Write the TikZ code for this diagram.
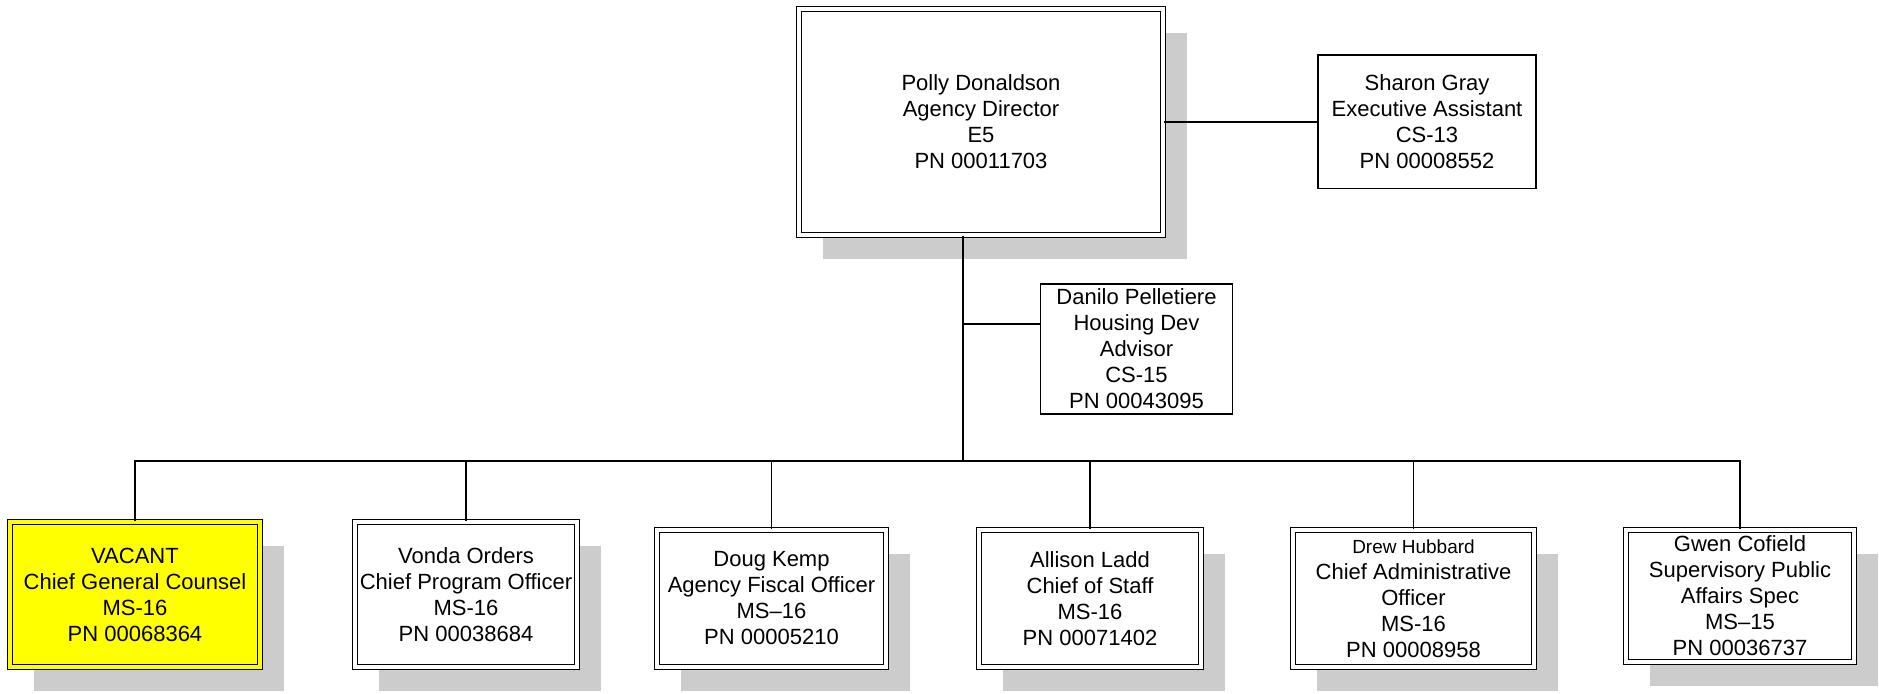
\documentclass[tikz,border=0pt]{standalone}
\usepackage{fontspec}
\setmainfont{Liberation Sans}
\usetikzlibrary{shadows}
\definecolor{shadowgray}{RGB}{204,204,204}
\definecolor{vacantyellow}{RGB}{255,255,0}

\begin{document}
\begin{tikzpicture}[
    x=0.5pt, y=-0.5pt,
    every node/.style={font=\fontsize{11}{13}\selectfont, align=center, inner sep=0pt},
    post/.style={rectangle, draw, fill=white, line width=0.75pt, double, double distance=1.6pt,
        general shadow={fill=shadowgray, shadow xshift=12pt, shadow yshift=-12pt}},
    staff/.style={rectangle, draw, fill=white, line width=0.75pt},
    link/.style={line width=0.9pt}
]
\useasboundingbox (0,0) rectangle (1879,694);

% top level
\node[post, minimum width=182pt, minimum height=113pt] (dir) at (981,122)
    {Polly Donaldson\\Agency Director\\E5\\PN 00011703};
\node[staff, minimum width=109pt, minimum height=66.75pt] (sharon) at (1427,122)
    {Sharon Gray\\Executive Assistant\\CS-13\\PN 00008552};
\node[staff, minimum width=96pt, minimum height=65pt] (danilo) at (1136.5,349)
    {Danilo Pelletiere\\Housing Dev\\Advisor\\CS-15\\PN 00043095};

% direct reports
\node[post, fill=vacantyellow, double=vacantyellow, minimum width=125pt, minimum height=72.5pt] (vacant) at (135,594.5)
    {VACANT\\Chief General Counsel\\MS-16\\PN 00068364};
\node[post, minimum width=111pt, minimum height=72.5pt] (vonda) at (466,594.5)
    {Vonda Orders\\Chief Program Officer\\MS-16\\PN 00038684};
\node[post, minimum width=114.5pt, minimum height=68.5pt] (doug) at (771.5,598.5)
    {Doug Kemp\\Agency Fiscal Officer\\MS--16\\PN 00005210};
\node[post, minimum width=111pt, minimum height=68.5pt] (allison) at (1090,598.5)
    {Allison Ladd\\Chief of Staff\\MS-16\\PN 00071402};
\node[post, minimum width=120.5pt, minimum height=68.5pt] (drew) at (1413.5,598.5)
    {{\fontsize{9.5}{11}\selectfont Drew Hubbard}\\Chief Administrative\\Officer\\MS-16\\PN 00008958};
\node[post, minimum width=114pt, minimum height=66pt] (gwen) at (1740,596)
    {Gwen Cofield\\Supervisory Public\\Affairs Spec\\MS--15\\PN 00036737};

% connectors
\coordinate (split) at (963,461);
\coordinate (tap) at (963,324);
\draw[link] (dir.south -| split) -- (split);
\draw[link] (dir) -- (sharon);
\draw[link] (tap) -- (tap -| danilo.west);
\foreach \n in {vacant,vonda,doug,allison,drew,gwen}
    \draw[link] (split) -| (\n);

\end{tikzpicture}
\end{document}
